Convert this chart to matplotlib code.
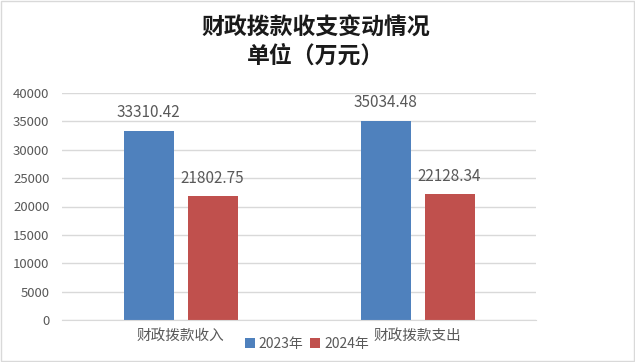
import matplotlib
matplotlib.use("Agg")
import matplotlib.pyplot as plt
import numpy as np
from matplotlib.patches import Rectangle

plt.rcParams['font.family'] = ['Noto Sans CJK SC', 'DejaVu Sans']

categories = ["财政拨款收入", "财政拨款支出"]
series_names = ["2023年", "2024年"]
values_2023 = [33310.42, 35034.48]
values_2024 = [21802.75, 22128.34]
yticks = [0, 5000, 10000, 15000, 20000, 25000, 30000, 35000, 40000]

colors = ["#4F81BD", "#C0504D"]
text_color = "#595959"

fig = plt.figure(figsize=(6.35, 3.62), dpi=100)
fig.patches.append(Rectangle((0.002, 0.002), 0.996, 0.994, transform=fig.transFigure,
                             fill=False, edgecolor="#D9D9D9", linewidth=1))
ax = fig.add_axes([62/635, 1-320/362, (536-62)/635, (320-93)/362])

x = np.arange(len(categories))
w = 50/237
off = 32/237
b1 = ax.bar(x - off, values_2023, w, color=colors[0], label=series_names[0], zorder=3)
b2 = ax.bar(x + off, values_2024, w, color=colors[1], label=series_names[1], zorder=3)
for bars, vals in ((b1, values_2023), (b2, values_2024)):
    for r, v in zip(bars, vals):
        ax.annotate(f"{v:.2f}", (r.get_x() + r.get_width()/2, v), xytext=(0, 7),
                    textcoords="offset points", ha="center", va="bottom",
                    fontsize=11, color=text_color)

ax.set_xlim(-0.5, 1.5)
ax.set_ylim(0, 40000)
ax.set_yticks(yticks)
ax.set_yticklabels([str(t) for t in yticks], fontsize=9.5, color=text_color)
ax.set_xticks(x)
ax.set_xticklabels(categories, fontsize=10.5, color=text_color)
ax.tick_params(axis='y', length=0, pad=9)
ax.tick_params(axis='x', length=0, pad=6)
ax.grid(axis='y', color="#D9D9D9", linewidth=1, zorder=0)
for s in ["top", "right", "left"]:
    ax.spines[s].set_visible(False)
ax.spines["bottom"].set_color("#D9D9D9")
ax.spines["bottom"].set_zorder(4)

fig.text(316/635, 1-28/362, "财政拨款收支变动情况", ha="center", va="center",
         fontsize=16.5, fontweight="bold", color="#1A1A1A")
fig.text(316/635, 1-56/362, "单位（万元）", ha="center", va="center",
         fontsize=16.5, fontweight="bold", color="#1A1A1A")

leg = fig.legend(loc="center", bbox_to_anchor=(307/635, 1-344/362), ncol=2,
                 frameon=False, fontsize=10, handlelength=0.7, handleheight=0.7,
                 handletextpad=0.3, columnspacing=0.5, labelcolor=text_color)

fig.savefig("out.png", dpi=100)
